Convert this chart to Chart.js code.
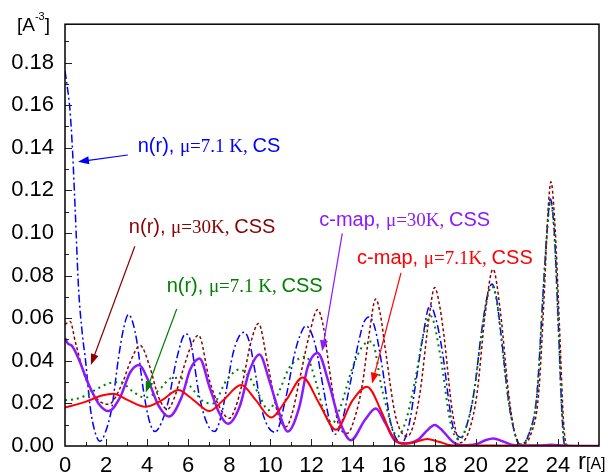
<!DOCTYPE html>
<html>
<head>
  <meta charset="UTF-8" />
  <title>n(r) and c-map</title>
  <script src="https://cdn.jsdelivr.net/npm/chart.js"></script>
  <style>
    html, body { margin: 0; padding: 0; background: #fff; }
    #wrap { width: 614px; height: 476px; position: relative; }
  </style>
</head>
<body>
<div id="wrap"><canvas id="grafico"></canvas></div>

<script>
  // n(r), mu=7.1 K, CS  (blue dash-dot)
  const rBlue = [0, 0.12, 0.24, 0.37, 0.5, 0.66, 0.85, 0.99, 1.23, 1.45, 1.7, 1.95, 2.28, 2.6, 2.85, 3.09, 3.3, 3.5, 3.82, 4.1, 4.38, 4.7, 5.03, 5.44, 5.87, 6.07, 6.55, 6.9, 7.28, 7.6, 7.85, 8.17, 8.45, 8.74, 9.0, 9.22, 9.63, 10.25, 10.76, 11.17, 11.45, 11.73, 12.0, 12.22, 12.6, 12.9, 13.15, 13.5, 13.9, 14.3, 14.55, 14.81, 15.1, 15.45, 15.86, 16.4, 16.75, 17.07, 17.4, 17.77, 18.05, 18.37, 18.85, 19.1, 19.3, 19.6, 19.9, 20.3, 20.55, 20.79, 21.0, 21.2, 21.6, 21.9, 22.17, 22.6, 22.98, 23.27, 23.47, 23.63, 23.82, 24.03, 24.19, 24.32, 24.6, 26];
  const nBlue = [0.176, 0.168, 0.158, 0.138, 0.11, 0.074, 0.052, 0.041, 0.018, 0.007, 0.0022, 0.006, 0.018, 0.041, 0.055, 0.0617, 0.058, 0.049, 0.026, 0.012, 0.0068, 0.011, 0.021, 0.041, 0.0526, 0.0506, 0.023, 0.011, 0.0068, 0.014, 0.026, 0.043, 0.051, 0.0534, 0.048, 0.0368, 0.0153, 0.0064, 0.023, 0.043, 0.052, 0.0564, 0.053, 0.046, 0.026, 0.011, 0.0055, 0.012, 0.03, 0.049, 0.058, 0.0606, 0.055, 0.0368, 0.0107, 0.0015, 0.01, 0.029, 0.05, 0.066, 0.06, 0.0445, 0.0107, 0.005, 0.004, 0.011, 0.0245, 0.055, 0.07, 0.076, 0.07, 0.055, 0.021, 0.006, 0.0007, 0.006, 0.0245, 0.0706, 0.101, 0.116, 0.101, 0.055, 0.0168, 0.0007, 0, 0];

  // n(r), mu=30K, CSS  (maroon dashed)
  const rMaroon = [0, 0.25, 0.5, 0.99, 1.47, 2.12, 2.77, 3.2, 3.66, 4.14, 4.55, 5.0, 5.3, 5.68, 6.1, 6.5, 7.04, 7.52, 8.0, 8.3, 8.66, 9.06, 9.42, 9.87, 10.36, 10.76, 11.05, 11.41, 11.89, 12.3, 12.6, 12.86, 13.35, 13.75, 14.1, 14.48, 14.8, 15.13, 15.35, 15.61, 16.1, 16.67, 17.0, 17.3, 17.72, 18.0, 18.2, 18.45, 18.85, 19.26, 19.7, 20.06, 20.47, 20.84, 21.2, 21.6, 21.9, 22.17, 22.7, 23.06, 23.33, 23.51, 23.66, 23.87, 24.08, 24.27, 24.4, 24.6, 26];
  const nMaroon = [0.057, 0.0585, 0.049, 0.032, 0.023, 0.0196, 0.029, 0.04, 0.0472, 0.0368, 0.023, 0.0173, 0.022, 0.0337, 0.046, 0.052, 0.0306, 0.0184, 0.013, 0.018, 0.0306, 0.049, 0.0575, 0.0383, 0.0153, 0.009, 0.015, 0.0306, 0.052, 0.064, 0.055, 0.0368, 0.0091, 0.006, 0.013, 0.029, 0.052, 0.069, 0.062, 0.0445, 0.0138, 0.0045, 0.011, 0.026, 0.06, 0.0744, 0.068, 0.052, 0.0168, 0.0015, 0.008, 0.0245, 0.063, 0.083, 0.063, 0.0245, 0.006, 0.0007, 0.006, 0.0245, 0.0706, 0.109, 0.124, 0.101, 0.055, 0.012, 0.001, 0, 0];

  // n(r), mu=7.1 K, CSS  (green dotted)
  const rGreen = [0, 0.5, 1.0, 1.6, 2.12, 2.7, 3.25, 3.9, 4.55, 5.2, 5.6, 6.1, 6.72, 7.2, 7.85, 8.5, 9.0, 9.5, 9.9, 10.44, 10.92, 11.4, 11.73, 12.2, 12.54, 13.03, 13.4, 14.0, 14.5, 14.94, 15.45, 16.2, 16.6, 17.07, 17.45, 17.8, 18.3, 18.77, 19.2, 19.6, 19.9, 20.3, 20.55, 20.79, 21.0, 21.2, 21.6, 22.17, 22.6, 22.98, 23.27, 23.47, 23.63, 23.82, 24.03, 24.19, 24.32, 24.6, 26];
  const nGreen = [0.0215, 0.022, 0.0237, 0.027, 0.0294, 0.03, 0.026, 0.0227, 0.026, 0.0319, 0.032, 0.028, 0.021, 0.02, 0.0306, 0.036, 0.032, 0.023, 0.0168, 0.026, 0.0368, 0.041, 0.042, 0.0306, 0.0184, 0.0107, 0.018, 0.0368, 0.047, 0.049, 0.026, 0.0045, 0.012, 0.032, 0.052, 0.061, 0.041, 0.0107, 0.003, 0.011, 0.024, 0.054, 0.069, 0.075, 0.069, 0.054, 0.021, 0.0007, 0.006, 0.024, 0.07, 0.1, 0.115, 0.1, 0.054, 0.017, 0.001, 0, 0];

  // c-map, mu=30K, CSS  (purple solid)
  const rPurple = [0, 0.15, 0.34, 0.66, 1.15, 1.63, 2.12, 2.69, 3.17, 3.61, 4.06, 4.55, 5.06, 5.68, 6.1, 6.55, 7.04, 7.52, 7.93, 8.5, 8.98, 9.47, 9.95, 10.44, 10.84, 11.41, 11.81, 12.3, 12.86, 13.35, 13.92, 14.6, 15.13, 15.6, 16.1, 16.6, 17.2, 17.6, 18.0, 18.4, 18.85, 19.3, 20.0, 20.5, 20.87, 21.3, 21.9, 23.0, 23.7, 24.3, 26];
  const cPurple = [0.0506, 0.048, 0.047, 0.041, 0.029, 0.02, 0.0164, 0.023, 0.0345, 0.038, 0.0306, 0.0191, 0.0138, 0.023, 0.036, 0.0411, 0.0276, 0.0153, 0.0104, 0.0184, 0.0353, 0.043, 0.0306, 0.0153, 0.0068, 0.0184, 0.0368, 0.0437, 0.029, 0.0122, 0.0027, 0.0122, 0.0176, 0.0107, 0.0022, 0.0012, 0.003, 0.007, 0.0099, 0.007, 0.0022, 0.0003, 0.0008, 0.0028, 0.0035, 0.0022, 0.0003, 0.0002, 0.0006, 0.0001, 0];

  // c-map, mu=7.1K, CSS  (red solid)
  const rRed = [0, 0.99, 1.8, 2.36, 3.09, 3.9, 4.7, 5.52, 6.07, 6.33, 7.04, 7.69, 8.58, 9.3, 10.03, 10.76, 11.57, 12.38, 13.19, 14.0, 14.7, 15.45, 15.86, 16.4, 17.0, 17.64, 18.2, 18.8, 20.0, 26];
  const cRed = [0.018, 0.0207, 0.0237, 0.0245, 0.0214, 0.0184, 0.0214, 0.0263, 0.023, 0.021, 0.0164, 0.0214, 0.0286, 0.0214, 0.0134, 0.0214, 0.0322, 0.0199, 0.0076, 0.0214, 0.0278, 0.0152, 0.006, 0.001, 0.0018, 0.0033, 0.002, 0.0004, 0.0002, 0];

  const xTicks = [0, 2, 4, 6, 8, 10, 12, 14, 16, 18, 20, 22, 24];
  const yTicks = [0.00, 0.02, 0.04, 0.06, 0.08, 0.10, 0.12, 0.14, 0.16, 0.18];

  const SANS = "'Liberation Sans', Arial, sans-serif";
  const SERIF = "'Liberation Serif', 'Times New Roman', serif";

  // annotations: text start (r, value) + arrow from -> to, in data units
  const notas = [
    { cor: '#0000ff', partes: [['n(r), ', 'sans'], ['μ=7.1 K, ', 'serif'], ['CS', 'sans']],
      r: 3.54, v: 0.138, de: [3.06, 0.1366], para: [0.63, 0.1334] },
    { cor: '#8b0000', partes: [['n(r), ', 'sans'], ['μ=30K, ', 'serif'], ['CSS', 'sans']],
      r: 3.11, v: 0.0998, de: [3.40, 0.0938], para: [1.26, 0.038] },
    { cor: '#008000', partes: [['n(r), ', 'sans'], ['μ=7.1 K, ', 'serif'], ['CSS', 'sans']],
      r: 4.95, v: 0.0721, de: [5.44, 0.0643], para: [3.93, 0.0251] },
    { cor: '#8c1aff', partes: [['c-map, ', 'sans'], ['μ=30K, ', 'serif'], ['CSS', 'sans']],
      r: 12.38, v: 0.1035, de: [13.5, 0.0998], para: [12.52, 0.0445] },
    { cor: '#ff0000', partes: [['c-map, ', 'sans'], ['μ=7.1K, ', 'serif'], ['CSS', 'sans']],
      r: 14.22, v: 0.0855, de: [16.36, 0.0813], para: [14.95, 0.0293] }
  ];

  function pontos(rs, vs) {
    return rs.map((r, i) => ({ x: r, y: vs[i] }));
  }

  function seta(ctx, x1, y1, x2, y2, cor) {
    const ang = Math.atan2(y2 - y1, x2 - x1);
    const L = 11, W = 4;
    ctx.strokeStyle = cor;
    ctx.fillStyle = cor;
    ctx.lineWidth = 1.2;
    ctx.setLineDash([]);
    ctx.beginPath();
    ctx.moveTo(x1, y1);
    ctx.lineTo(x2 - Math.cos(ang) * L * 0.8, y2 - Math.sin(ang) * L * 0.8);
    ctx.stroke();
    ctx.beginPath();
    ctx.moveTo(x2, y2);
    ctx.lineTo(x2 - Math.cos(ang) * L + Math.sin(ang) * W, y2 - Math.sin(ang) * L - Math.cos(ang) * W);
    ctx.lineTo(x2 - Math.cos(ang) * L - Math.sin(ang) * W, y2 - Math.sin(ang) * L + Math.cos(ang) * W);
    ctx.closePath();
    ctx.fill();
  }

  const extras = {
    id: 'extras',
    afterDraw(chart) {
      const ctx = chart.ctx;
      const a = chart.chartArea;
      const xs = chart.scales.x, ys = chart.scales.y;
      ctx.save();

      // ticks inward
      ctx.strokeStyle = '#222';
      ctx.lineWidth = 1;
      for (let r = 1; r <= 25; r++) {
        const px = Math.round(xs.getPixelForValue(r)) + 0.5;
        const len = r % 2 === 0 ? 7 : 4;
        ctx.beginPath(); ctx.moveTo(px, a.bottom); ctx.lineTo(px, a.bottom - len); ctx.stroke();
      }
      for (let k = 1; k <= 19; k++) {
        const py = Math.round(ys.getPixelForValue(k * 0.01)) + 0.5;
        const len = k % 2 === 0 ? 7 : 4;
        ctx.beginPath(); ctx.moveTo(a.left, py); ctx.lineTo(a.left + len, py); ctx.stroke();
      }

      // frame
      ctx.strokeStyle = '#000';
      ctx.lineWidth = 1.5;
      ctx.strokeRect(a.left, a.top, a.right - a.left, a.bottom - a.top);

      // axis titles
      ctx.fillStyle = '#000';
      ctx.textBaseline = 'alphabetic';
      ctx.textAlign = 'left';
      ctx.font = '19px ' + SANS;
      ctx.fillText('[A', 17, 31);
      let w = ctx.measureText('[A').width;
      ctx.font = '11px ' + SANS;
      ctx.fillText('-3', 17 + w, 20);
      const w2 = ctx.measureText('-3').width;
      ctx.font = '19px ' + SANS;
      ctx.fillText(']', 17 + w + w2, 31);

      ctx.font = '24px ' + SANS;
      ctx.fillText('r', 578, 469);
      w = ctx.measureText('r').width;
      ctx.font = '16px ' + SANS;
      ctx.fillText('[A]', 578 + w, 469);

      // annotations
      for (const n of notas) {
        let x = xs.getPixelForValue(n.r);
        const y = ys.getPixelForValue(n.v);
        ctx.fillStyle = n.cor;
        for (const [t, f] of n.partes) {
          ctx.font = f === 'sans' ? '20px ' + SANS : '19px ' + SERIF;
          ctx.fillText(t, x, y);
          x += ctx.measureText(t).width;
        }
        seta(ctx,
          xs.getPixelForValue(n.de[0]), ys.getPixelForValue(n.de[1]),
          xs.getPixelForValue(n.para[0]), ys.getPixelForValue(n.para[1]), n.cor);
      }
      ctx.restore();
    }
  };

  new Chart(document.getElementById('grafico'), {
    type: 'line',
    data: {
      datasets: [
        { label: 'c-map, μ=7.1K, CSS', data: pontos(rRed, cRed), borderColor: '#ff0000', borderWidth: 2, order: 0 },
        { label: 'c-map, μ=30K, CSS', data: pontos(rPurple, cPurple), borderColor: '#8c1aff', borderWidth: 2.5, order: 1 },
        { label: 'n(r), μ=7.1 K, CSS', data: pontos(rGreen, nGreen), borderColor: '#008000', borderWidth: 2, borderDash: [2, 4], order: 2 },
        { label: 'n(r), μ=30K, CSS', data: pontos(rMaroon, nMaroon), borderColor: '#8b0000', borderWidth: 1.5, borderDash: [3, 2.5], order: 3 },
        { label: 'n(r), μ=7.1 K, CS', data: pontos(rBlue, nBlue), borderColor: '#0000ff', borderWidth: 1.5, borderDash: [8, 3, 2, 3], order: 4 }
      ]
    },
    options: {
      responsive: true,
      maintainAspectRatio: false,
      animation: false,
      events: [],
      layout: { padding: { top: 14, right: 15, left: 0, bottom: 0 } },
      elements: {
        point: { radius: 0 },
        line: { cubicInterpolationMode: 'monotone', fill: false }
      },
      plugins: {
        legend: { display: false },
        tooltip: { enabled: false }
      },
      scales: {
        x: {
          type: 'linear',
          min: 0,
          max: 26,
          afterFit: s => { s.height = 30; },
          grid: { display: false, drawTicks: false },
          border: { display: false },
          afterBuildTicks: s => { s.ticks = xTicks.map(v => ({ value: v })); },
          ticks: {
            padding: 7,
            maxRotation: 0,
            autoSkip: false,
            color: '#000',
            font: { family: SANS, size: 22 },
            callback: v => String(v)
          }
        },
        y: {
          min: 0,
          max: 0.198,
          afterFit: s => { s.width = 65; },
          grid: { display: false, drawTicks: false },
          border: { display: false },
          afterBuildTicks: s => { s.ticks = yTicks.map(v => ({ value: v })); },
          ticks: {
            padding: 11,
            autoSkip: false,
            color: '#000',
            font: { family: SANS, size: 22 },
            callback: v => v.toFixed(2)
          }
        }
      }
    },
    plugins: [extras]
  });
</script>
</body>
</html>
